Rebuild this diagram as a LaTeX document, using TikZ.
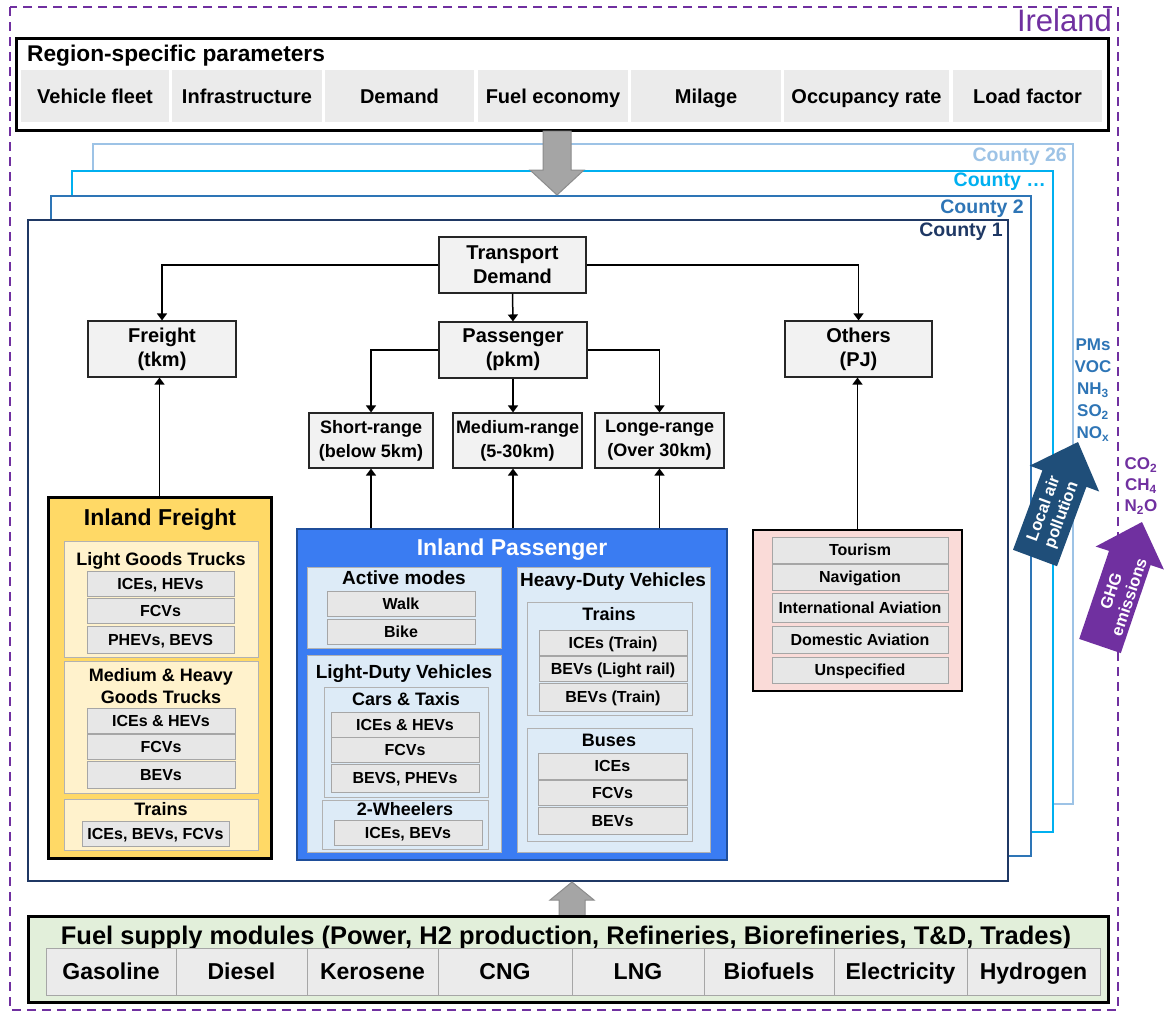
\documentclass[tikz,border=0pt]{standalone}
\usepackage{fontspec}
\setmainfont{Liberation Sans}
\usetikzlibrary{arrows.meta}
\definecolor{irepurple}{HTML}{7030A0}
\definecolor{cellgray}{HTML}{EBEBEB}
\definecolor{nodegray}{HTML}{F2F2F2}
\definecolor{itemgray}{HTML}{E7E7E7}
\definecolor{itemline}{HTML}{A6A6A6}
\definecolor{fry}{HTML}{FFD966}
\definecolor{frsub}{HTML}{FFF2CC}
\definecolor{pblue}{HTML}{3A7CF2}
\definecolor{pbord}{HTML}{1F4E9A}
\definecolor{psub}{HTML}{DDEBF7}
\definecolor{opink}{HTML}{FADBD8}
\definecolor{fgreen}{HTML}{E2EFDA}
\definecolor{ctA}{HTML}{9DC3E6}
\definecolor{ctB}{HTML}{00B0F0}
\definecolor{ctC}{HTML}{2E75B6}
\definecolor{ctD}{HTML}{1F3864}
\definecolor{lapblue}{HTML}{1F4E79}
\definecolor{embl}{HTML}{2E75B6}
\definecolor{garr}{HTML}{A5A5A5}
\definecolor{garrl}{HTML}{8C8C8C}
\newcommand\rbox[7]{%
  \pgfmathsetmacro\myBW{#5-#3}\pgfmathsetmacro\myBH{#6-#4}%
  \pgfmathsetmacro\myBX{(#3+#5)/2}\pgfmathsetmacro\myBY{(#4+#6)/2}%
  \node[#2, minimum width=\myBW pt, minimum height=\myBH pt, inner sep=0pt] (#1) at (\myBX,\myBY) {#7};}
\tikzset{
  fA/.style={font=\bfseries\fontsize{16}{18}\selectfont},
  fB/.style={font=\bfseries\fontsize{18}{22}\selectfont},
  fC/.style={font=\bfseries\fontsize{18}{24}\selectfont},
  fK/.style={font=\bfseries\fontsize{19}{22}\selectfont},
  fD/.style={font=\bfseries\fontsize{20}{24}\selectfont},
  fE/.style={font=\bfseries\fontsize{20}{24}\selectfont},
  fF/.style={font=\bfseries\fontsize{22.7}{24}\selectfont},
  fG/.style={font=\bfseries\fontsize{23}{26}\selectfont},
  fH/.style={font=\bfseries\fontsize{25.5}{27}\selectfont},
  cell/.style={fill=cellgray, fE, text height=14.4pt, text depth=0pt},
  fcell/.style={fill=cellgray, draw=itemline, line width=0.8pt, fG, text height=16.6pt, text depth=0pt},
  dnode/.style={fill=nodegray, draw=black!85, line width=1.1pt, align=center, fD},
  rnode/.style={fill=nodegray, draw=black!85, line width=1.1pt, align=center, fC},
  item/.style={fill=itemgray, draw=itemline, line width=0.9pt, fA, text height=11.5pt, text depth=0pt},
  ysub/.style={fill=frsub, draw=black!30, line width=0.9pt},
  bsub/.style={fill=psub, draw=black!30, line width=0.9pt},
  ttl/.style={inner sep=0pt, text height=#1, text depth=0pt},
  conn/.style={line width=1.5pt, -{Triangle[length=7pt,width=10pt]}},
  garrow/.style={fill=garr, draw=garrl, line width=1pt},
  ctylab/.style={anchor=east, inner sep=0pt, font=\bfseries\fontsize{19.5}{22}\selectfont},
}
\begin{document}
\begin{tikzpicture}[x=1pt,y=-1pt]
\useasboundingbox (0,0) rectangle (1164,1012);
% Ireland frame
\draw[irepurple, line width=2.5pt, dash pattern=on 9pt off 6pt] (10,7) rectangle (1118,1010);
\node[anchor=base east, fill=white, inner sep=1pt, text=irepurple, font=\fontsize{31}{31}\selectfont] (ireland) at (1113,31) {Ireland};
% Region-specific parameters
\rbox{region}{draw=black, line width=3pt, fill=white}{16}{38}{1108}{130}{}
\node[anchor=west, fF, inner sep=0pt] (regtitle) at (27,56) {Region-specific parameters};
\rbox{p1}{cell}{21}{70}{169}{122}{Vehicle fleet}
\rbox{p2}{cell}{172}{70}{322}{122}{Infrastructure}
\rbox{p3}{cell}{325}{70}{474}{122}{Demand}
\rbox{p4}{cell}{478}{70}{628}{122}{Fuel economy}
\rbox{p5}{cell}{631}{70}{781}{122}{Milage}
\rbox{p6}{cell}{784}{70}{949}{122}{Occupancy rate}
\rbox{p7}{cell}{953}{70}{1102}{122}{Load factor}
% Counties
\rbox{cty26}{draw=ctA, line width=2.5pt, fill=white}{93}{144}{1073}{804}{}
\rbox{ctyx}{draw=ctB, line width=2.5pt, fill=white}{72}{171}{1053}{832}{}
\rbox{cty2}{draw=ctC, line width=2.5pt, fill=white}{51}{196}{1031}{856}{}
\rbox{cty1}{draw=ctD, line width=2.5pt, fill=white}{28}{220}{1008}{881}{}
\node[ctylab, text=ctA] (l26) at (1067,157) {County 26};
\node[ctylab, text=ctB] (lx) at (1046,182) {County \dots};
\node[ctylab, text=ctC] (l2) at (1024,209) {County 2};
\node[ctylab, text=ctD] (l1) at (1003,232) {County 1};
% grey block arrows
\draw[garrow] (543,131) -- (571,131) -- (571,170) -- (584,170) -- (557,195) -- (530,170) -- (543,170) -- cycle;
\draw[garrow] (559,916) -- (585,916) -- (585,900) -- (594,900) -- (572,882) -- (550,900) -- (559,900) -- cycle;
% Demand tree
\rbox{td}{dnode}{439}{237}{586}{293}{Transport\\Demand}
\rbox{pas}{dnode}{439}{322}{587}{378}{Passenger\\(pkm)}
\rbox{fr}{dnode}{88}{321}{236}{377}{Freight\\(tkm)}
\rbox{ot}{dnode}{785}{321}{932}{377}{Others\\(PJ)}
\rbox{sr}{rnode}{309}{413}{433}{468}{Short-range\\(below 5km)}
\rbox{mr}{rnode}{453}{413}{582}{468}{Medium-range\\(5-30km)}
\rbox{lr}{rnode}{595}{413}{724}{468}{Longe-range\\(Over 30km)}
\draw[conn] (td.west) -| (fr.north);
\draw[conn] (td.east) -| (ot.north);
\draw[conn] (td.south) -- (pas.north);
\draw[conn] (pas.west) -| (sr.north);
\draw[conn] (pas.south) -- (pas.south |- mr.north);
\draw[conn] (pas.east) -| (lr.north);
% Inland Freight
\rbox{ifr}{draw=black, line width=3pt, fill=fry}{48}{497}{271}{858}{}
\node[fG, ttl=16.6pt] (ifrt) at (160,517) {Inland Freight};
\rbox{lgt}{ysub}{64}{541}{258}{657}{}
\node[fB, ttl=13pt] (lgtt) at (161,559) {Light Goods Trucks};
\rbox{lgtA}{item}{87}{571}{234}{596}{ICEs, HEVs}
\rbox{lgtB}{item}{87}{598}{234}{623}{FCVs}
\rbox{lgtC}{item}{87}{626}{234}{653}{PHEVs, BEVS}
\rbox{mhg}{ysub}{64}{661}{258}{793}{}
\node[fB, align=center, inner sep=0pt] (mhgt) at (161,686) {Medium \& Heavy\\Goods Trucks};
\rbox{mhgA}{item}{87}{708}{235}{733}{ICEs \& HEVs}
\rbox{mhgB}{item}{87}{734}{235}{759}{FCVs}
\rbox{mhgC}{item}{87}{761}{235}{788}{BEVs}
\rbox{frt}{ysub}{64}{799}{258}{850}{}
\node[fB, ttl=13pt] (frtt) at (161,809) {Trains};
\rbox{frtA}{item}{82}{821}{229}{846}{ICEs, BEVs, FCVs}
\draw[conn] (ifr.north) -- (ifr.north |- fr.south);
% Inland Passenger
\rbox{ipa}{draw=pbord, line width=2pt, fill=pblue}{297}{529}{727}{860}{}
\node[fG, ttl=16.6pt, text=white] (ipat) at (512,547) {Inland Passenger};
\rbox{act}{bsub}{307}{567}{501}{648}{}
\node[fK, ttl=13.7pt] (actt) at (404,578) {Active modes};
\rbox{actA}{item}{327}{591}{475}{616}{Walk}
\rbox{actB}{item}{327}{619}{475}{644}{Bike}
\rbox{ldv}{bsub}{307}{655}{501}{852}{}
\node[fK, ttl=13.7pt] (ldvt) at (404,672) {Light-Duty Vehicles};
\rbox{car}{bsub}{324}{687}{488}{797}{}
\node[fC, ttl=13pt] (cart) at (406,699) {Cars \& Taxis};
\rbox{carA}{item}{331}{712}{479}{737}{ICEs \& HEVs}
\rbox{carB}{item}{331}{737}{479}{762}{FCVs}
\rbox{carC}{item}{331}{764}{479}{792}{BEVS, PHEVs}
\rbox{two}{bsub}{322}{800}{488}{849}{}
\node[fC, ttl=13pt] (twot) at (405,809) {2-Wheelers};
\rbox{twoA}{item}{334}{820}{482}{845}{ICEs, BEVs}
\rbox{hdv}{bsub}{517}{567}{710}{852}{}
\node[fK, ttl=13.7pt] (hdvt) at (613,580) {Heavy-Duty Vehicles};
\rbox{trn}{bsub}{527}{602}{692}{715}{}
\node[fC, ttl=13pt] (trnt) at (609,614) {Trains};
\rbox{trnA}{item}{539}{630}{687}{655}{ICEs (Train)}
\rbox{trnB}{item}{539}{656}{687}{681}{BEVs (Light rail)}
\rbox{trnC}{item}{539}{683}{687}{711}{BEVs (Train)}
\rbox{bus}{bsub}{527}{728}{692}{841}{}
\node[fC, ttl=13pt] (bust) at (609,740) {Buses};
\rbox{busA}{item}{538}{753}{687}{779}{ICEs}
\rbox{busB}{item}{538}{780}{687}{805}{FCVs}
\rbox{busC}{item}{538}{807}{687}{834}{BEVs}
\draw[conn] (sr.south |- ipa.north) -- (sr.south);
\draw[conn] (pas.south |- ipa.north) -- (pas.south |- mr.south);
\draw[conn] (lr.south |- ipa.north) -- (lr.south);
% Others
\rbox{oth}{draw=black, line width=2.5pt, fill=opink}{753}{530}{962}{691}{}
\rbox{othA}{item}{772}{537}{948}{563}{Tourism}
\rbox{othB}{item}{772}{564}{948}{590}{Navigation}
\rbox{othC}{item}{772}{593}{948}{622}{International Aviation}
\rbox{othD}{item}{772}{626}{948}{653}{Domestic Aviation}
\rbox{othE}{item}{772}{657}{948}{683}{Unspecified}
\draw[conn] (oth.north) -- (oth.north |- ot.south);
% Fuel supply
\rbox{fuel}{draw=black, line width=3pt, fill=fgreen}{28}{916}{1108}{1002}{}
\node[fH, ttl=18.4pt] (fuelt) at (566,935) {Fuel supply modules (Power, H2 production, Refineries, Biorefineries, T\&D, Trades)};
\rbox{fA}{fcell}{46}{948}{176}{995}{Gasoline}
\rbox{fB}{fcell}{176}{948}{307}{995}{Diesel}
\rbox{fC}{fcell}{307}{948}{438}{995}{Kerosene}
\rbox{fD}{fcell}{438}{948}{572}{995}{CNG}
\rbox{fE}{fcell}{572}{948}{704}{995}{LNG}
\rbox{fF}{fcell}{704}{948}{834}{995}{Biofuels}
\rbox{fG}{fcell}{834}{948}{967}{995}{Electricity}
\rbox{fH}{fcell}{967}{948}{1100}{995}{Hydrogen}
% Emissions
\node[text=embl, align=center, inner sep=0pt, font=\bfseries\fontsize{17}{22}\selectfont] (lapt) at (1093,390) {PMs\\VOC\\NH\textsubscript{3}\\SO\textsubscript{2}\\NO\textsubscript{x}};
\node[text=irepurple, align=center, inner sep=0pt, font=\bfseries\fontsize{17}{21}\selectfont] (ghgt) at (1141,486) {CO\textsubscript{2}\\CH\textsubscript{4}\\N\textsubscript{2}O};
\fill[lapblue] (1013.0,549.8) -- (1042.4,470.4) -- (1029.7,465.7) -- (1078,442) -- (1099.1,491.5) -- (1086.4,486.8) -- (1057.0,566.2) -- cycle;
\node[text=white, align=center, rotate=69.7, inner sep=0pt, font=\bfseries\fontsize{16.5}{19}\selectfont] (lapa) at (1053,512) {Local air\\pollution};
\fill[irepurple] (1079.2,638.9) -- (1109.0,550.9) -- (1095.7,546.5) -- (1142,522) -- (1163.9,569.5) -- (1150.6,565.1) -- (1120.8,653.1) -- cycle;
\node[text=white, align=center, rotate=71.3, inner sep=0pt, font=\bfseries\fontsize{16.5}{19}\selectfont] (ghga) at (1120,594) {GHG\\emissions};
\end{tikzpicture}
\end{document}
